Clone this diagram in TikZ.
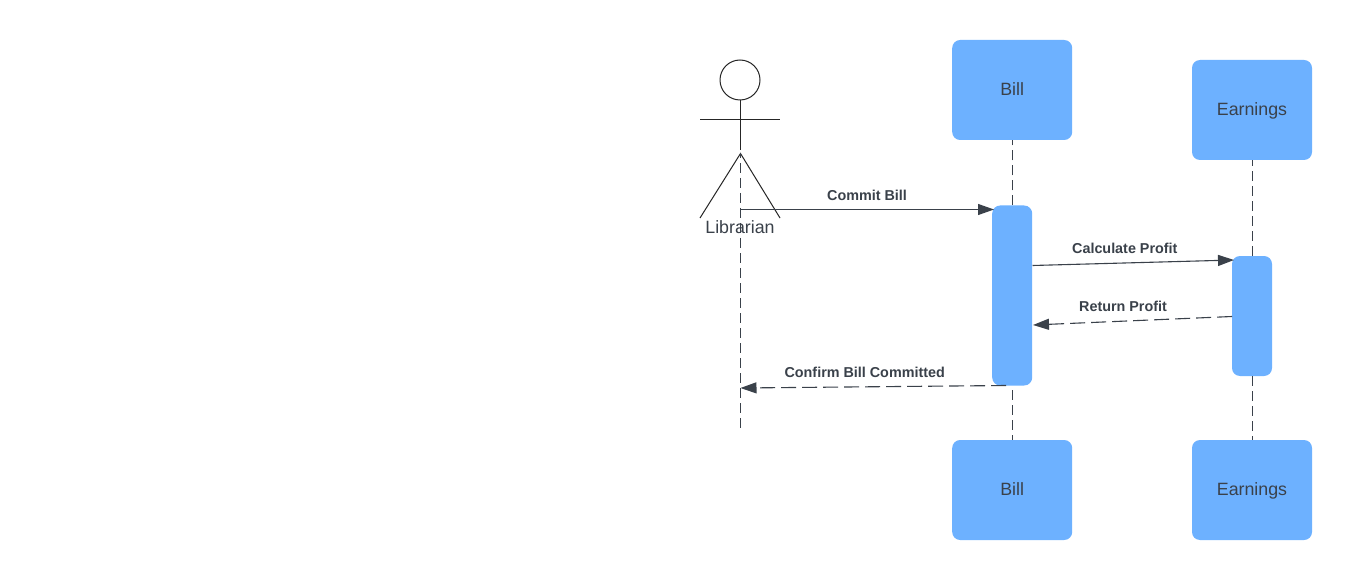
\documentclass[tikz,border=0pt]{standalone}
\usepackage{fontspec}
\setmainfont{Liberation Sans}
\usetikzlibrary{arrows.meta}
\definecolor{boxblue}{HTML}{6DB1FF}
\definecolor{ink}{HTML}{3A414A}
\tikzset{
  x=1pt,y=-1pt,
  objbox/.style={draw=none,fill=boxblue,rounded corners=8pt,minimum width=120pt,minimum height=100pt,inner sep=0pt,text=ink,text height=13pt,text depth=2pt,font=\fontsize{17.8}{20}\selectfont},
  actbox/.style={draw=none,fill=boxblue,rounded corners=8pt,minimum width=40pt,inner sep=0pt},
  lifeline/.style={draw=ink,line width=1pt,dash pattern=on 10pt off 5pt},
  msg/.style={draw=ink,line width=1.1pt,-{Triangle[length=16pt,width=11pt,fill=ink]}},
  ret/.style={msg,dash pattern=on 15pt off 6pt},
  msglabel/.style={inner sep=0pt,text=ink,font=\fontsize{14.35}{17}\selectfont\bfseries},
  limb/.style={draw=black!85,line width=1pt},
}
\begin{document}
\begin{tikzpicture}
\useasboundingbox (0,0) rectangle (1352,580);
\fill[white] (0,0) rectangle (1352,580);
% actor
\node[circle,draw=black!85,line width=1pt,minimum size=40pt,inner sep=0pt] (head) at (740,80) {};
\coordinate (shoulderL) at (700,119.5);
\coordinate (shoulderR) at (780,119.5);
\coordinate (hip) at (740.5,153.5);
\coordinate (footL) at (700,218);
\coordinate (footR) at (780,218);
\coordinate (lifeEnd) at (740.5,430);
\coordinate (lifeStart) at (740.5,153);
\draw[limb] (head.south) -- (740,150);
\draw[limb] (shoulderL) -- (shoulderR);
\draw[limb] (footL) -- (hip) -- (footR);
\draw[lifeline,dash phase=5pt] (lifeStart) -- (lifeEnd);
\node[inner sep=0pt,text=ink,font=\fontsize{17.8}{20}\selectfont] (actor) at (740,227.2) {Librarian};
% objects
\node[objbox] (billT) at (1012.2,90) {Bill};
\node[objbox] (earnT) at (1252,110) {Earnings};
\node[objbox] (billB) at (1012.2,490) {Bill};
\node[objbox] (earnB) at (1252,490) {Earnings};
% activations
\node[actbox,minimum height=180pt] (actBill) at (1012.2,295.5) {};
\node[actbox,minimum height=120pt] (actEarn) at (1252,316) {};
% lifelines, each dashed outward from the activation
\draw[lifeline,xshift=.3pt] (actBill.north) -- (billT.south);
\draw[lifeline,xshift=.3pt,dash phase=10.5pt] (actBill.south) -- (billB.north);
\draw[lifeline,xshift=.5pt] (actEarn.north) -- (earnT.south);
\draw[lifeline,xshift=.5pt] (actEarn.south) -- (earnB.north);
% messages
\coordinate (m1s) at (740.5,209.5);
\coordinate (m1e) at (994,209.5);
\coordinate (m2s) at (1032.5,265.5);
\coordinate (m2e) at (1234,260);
\coordinate (m3s) at (1232,316.5);
\coordinate (m3e) at (1033,325);
\coordinate (m4s) at (1006,385.5);
\coordinate (m4e) at (740.5,388);
\draw[msg] (m1s) -- (m1e);
\draw[msg] (m2s) -- (m2e);
\draw[ret] (m3s) -- (m3e);
\draw[ret] (m4s) -- (m4e);
\node[msglabel] (l1) at (867,195) {Commit Bill};
\node[msglabel] (l2) at (1124.8,248) {Calculate Profit};
\node[msglabel] (l3) at (1123,306.5) {Return Profit};
\node[msglabel] (l4) at (864.7,372) {Confirm Bill Committed};
\end{tikzpicture}
\end{document}
